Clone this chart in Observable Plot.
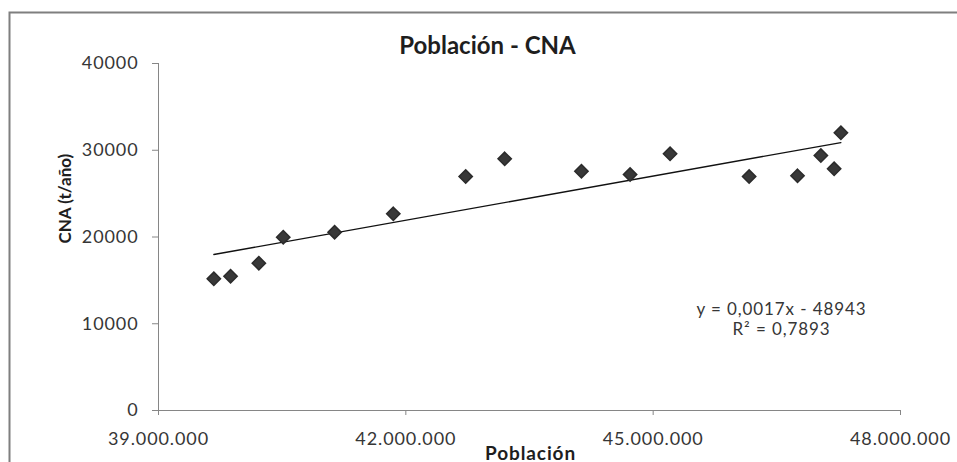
<!DOCTYPE html>
<html><head><meta charset="utf-8">
<script src="https://cdn.jsdelivr.net/npm/d3@7"></script>
<script src="https://cdn.jsdelivr.net/npm/@observablehq/plot@0.6"></script>
<style>
html,body{margin:0;padding:0;background:#fff;}
#chart g[aria-description="title"], #chart g[aria-description="ylabel"] { letter-spacing: normal; }
</style></head><body><div id="chart"></div>
<script>
// Data
const poblacion = [39671000, 39874000, 40217000, 40513000, 41136000, 41848000, 42726000, 43199000,
                   44130000, 44720000, 45205000, 46164000, 46751000, 47034000, 47195000, 47277000];
const cna = [15180, 15480, 16980, 19980, 20550, 22670, 26970, 29010,
             27590, 27200, 29590, 26970, 27050, 29390, 27860, 32010];
const xTicks = [39000000, 42000000, 45000000, 48000000];
const yTicks = [0, 10000, 20000, 30000, 40000];
const title = "Población - CNA";
const xLabel = "Población";
const yLabel = "CNA (t/año)";
const equation = ["y = 0,0017x - 48943", "R² = 0,7893"];

const data = poblacion.map((p, i) => ({p, c: cna[i]}));
const fmtX = d => d3.format(",")(d).replace(/,/g, ".");
const font = "Lato, 'Open Sans', sans-serif";
const textColor = "#363636";
const axisColor = "#868686";

const chart = Plot.plot({
  width: 957, height: 462,
  marginLeft: 158, marginRight: 57, marginTop: 63, marginBottom: 52,
  style: {fontFamily: font, fontSize: "18px", color: textColor, background: "#fff", letterSpacing: "0.9px"},
  x: {domain: [39000000, 48000000]},
  y: {domain: [0, 40000]},
  marks: [
    Plot.ruleX([xTicks[0]], {stroke: axisColor}),
    Plot.ruleY([yTicks[0]], {stroke: axisColor}),
    Plot.axisY({ticks: yTicks, tickSize: 6, tickPadding: 14, tickFormat: d3.format("d"), label: null, stroke: axisColor, fill: textColor}),
    Plot.axisX({ticks: xTicks, tickSize: 5, tickPadding: 17, tickFormat: fmtX, label: null, stroke: axisColor, fill: textColor}),
    Plot.linearRegressionY(data, {x: "p", y: "c", ci: 0, stroke: "#111", strokeWidth: 1.3}),
    Plot.dot(data, {x: "p", y: "c", symbol: "diamond2", r: 6, fill: "#383838", stroke: "#2b2b2b"}),
    Plot.text([title], {ariaDescription: "title", frameAnchor: "top", lineAnchor: "middle", dx: -42, dy: -17, fontWeight: "bold", fontSize: 24, fill: "#1e1e1e"}),
    Plot.text([yLabel], {ariaDescription: "ylabel", frameAnchor: "left", rotate: -90, dx: -93, dy: 6.5, fontWeight: "bold", fontSize: 17, fill: "#1e1e1e"}),
    Plot.text([xLabel], {frameAnchor: "bottom", dx: 1, dy: 49, fontWeight: "bold", fontSize: 19, fill: "#1e1e1e"}),
    Plot.text([equation.join("\n")], {frameAnchor: "top-left", lineAnchor: "middle", textAnchor: "middle", dx: 623, dy: 255, lineHeight: 1.15, fontSize: 17, fill: textColor})
  ]
});

d3.select(chart).append("path")
  .attr("d", "M9.5,470V12.5H970")
  .attr("fill", "none")
  .attr("stroke", "#7f7f7f")
  .attr("stroke-width", 2);

document.getElementById("chart").appendChild(chart);
</script>
</body></html>
